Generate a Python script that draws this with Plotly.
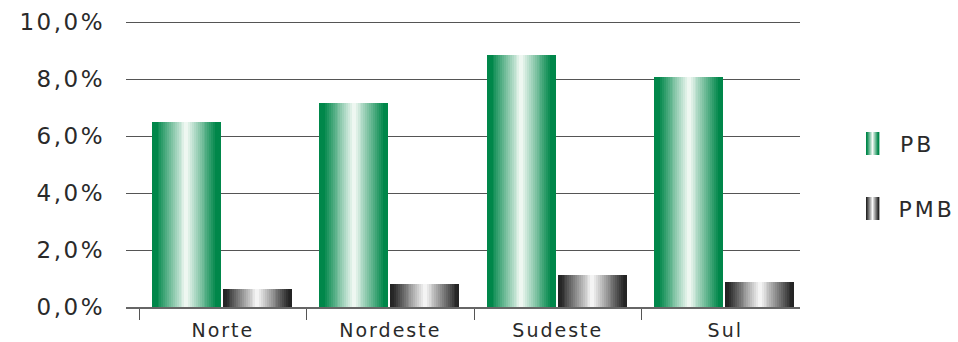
import plotly.graph_objects as go

# Data: share by region (%)
regions = ["Norte", "Nordeste", "Sudeste", "Sul"]
pb_values = [6.5, 7.15, 8.85, 8.08]
pmb_values = [0.63, 0.81, 1.12, 0.89]
series_names = ["PB", "PMB"]
y_ticks = [0, 2, 4, 6, 8, 10]
y_tick_labels = ["0,0%", "2,0%", "4,0%", "6,0%", "8,0%", "10,0%"]

# Horizontal "cylinder" shading for each series: dark edges, bright centre
GREEN_STOPS = [(0.0, (0, 135, 74)), (0.07, (0, 135, 74)), (0.5, (246, 251, 247)),
               (0.93, (0, 135, 74)), (1.0, (0, 135, 74))]
GRAY_STOPS = [(0.0, (34, 34, 34)), (0.05, (40, 40, 40)), (0.5, (250, 250, 250)),
              (0.95, (40, 40, 40)), (1.0, (34, 34, 34))]


def shade(stops, t):
    for (t0, c0), (t1, c1) in zip(stops[:-1], stops[1:]):
        if t0 <= t <= t1:
            f = 0 if t1 == t0 else (t - t0) / (t1 - t0)
            r, g, b = (round(a + (b_ - a) * f) for a, b_ in zip(c0, c1))
            return f"rgb({r},{g},{b})"
    r, g, b = stops[-1][1]
    return f"rgb({r},{g},{b})"


BAR_W = 0.412
OFFSETS = [-0.424, 0.0]
N_STRIPS = 36

fig = go.Figure()
for values, off, stops in zip([pb_values, pmb_values], OFFSETS, [GREEN_STOPS, GRAY_STOPS]):
    step = BAR_W / N_STRIPS
    for k in range(N_STRIPS):
        left = off + k * step
        # slight overlap between neighbouring strips hides anti-aliasing seams
        w = min(step * 1.6, off + BAR_W - left)
        fig.add_trace(go.Bar(
            x=regions, y=values, offset=left, width=w,
            marker=dict(color=shade(stops, (k + 0.5) / N_STRIPS), line=dict(width=0)),
            showlegend=False, hoverinfo="skip",
        ))

# Plot area in pixels; the top sits a few pixels above the 10 % gridline so it gets drawn
PX_PER_UNIT = 28.5
HEADROOM = 4
PLOT_L, PLOT_R, PLOT_T, PLOT_B = 126, 800, 22 - HEADROOM, 307
Y_TOP = 10 + HEADROOM / PX_PER_UNIT
pw, ph = PLOT_R - PLOT_L, PLOT_B - PLOT_T


def px_x(x):
    return (x - PLOT_L) / pw


def px_y(y):
    return (PLOT_B - y) / ph


# Legend swatches drawn as shaded strips, placed in paper coordinates
shapes = []
annotations = []
for name, stops, (top, bottom) in zip(series_names, [GREEN_STOPS, GRAY_STOPS], [(132, 155), (197, 220)]):
    sw_l, sw_w = 866, 13
    for k in range(sw_w):
        shapes.append(dict(
            type="rect", xref="paper", yref="paper",
            x0=px_x(sw_l + k), x1=px_x(sw_l + k + 1.4),
            y0=px_y(bottom), y1=px_y(top),
            fillcolor=shade(stops, (k + 0.5) / sw_w), line=dict(width=0), layer="above",
        ))
    annotations.append(dict(
        text=name, xref="paper", yref="paper", x=px_x(901), y=px_y((top + bottom) / 2 + 1),
        xanchor="left", yanchor="middle", showarrow=False,
        font=dict(family="DejaVu Sans", size=22, color="#2a2a2a"),
    ))

fig.update_layout(
    width=958, height=342,
    margin=dict(l=PLOT_L, r=958 - PLOT_R, t=PLOT_T, b=342 - PLOT_B),
    paper_bgcolor="white", plot_bgcolor="white",
    barmode="overlay", bargap=0,
    showlegend=False,
    shapes=shapes, annotations=annotations,
    font=dict(family="DejaVu Sans", color="#2a2a2a"),
)
fig.update_xaxes(
    type="category", range=[-0.578, 3.446], automargin=False,
    tickson="boundaries", ticks="outside", ticklen=11, tickcolor="#555", tickwidth=1.2,
    ticklabelstandoff=5,
    showgrid=False, showline=True, linecolor="#666", linewidth=1.5,
    tickfont=dict(family="DejaVu Sans", size=19, color="#2a2a2a"),
)
fig.update_yaxes(
    range=[0, Y_TOP], tickvals=y_ticks, ticktext=y_tick_labels, automargin=False,
    showgrid=True, gridcolor="#555", gridwidth=1.3,
    zeroline=False, showline=False, ticks="",
    ticklabelstandoff=20,
    tickfont=dict(family="DejaVu Sans", size=23, color="#2a2a2a"),
)

spacing_js = """
document.querySelectorAll('.xtick text').forEach(function(t){t.style.letterSpacing='2px';});
document.querySelectorAll('.ytick text').forEach(function(t){t.style.letterSpacing='2.5px';});
document.querySelectorAll('.annotation-text').forEach(function(t){t.style.letterSpacing='3px';});
"""
fig.write_html("out.html", post_script=spacing_js)
